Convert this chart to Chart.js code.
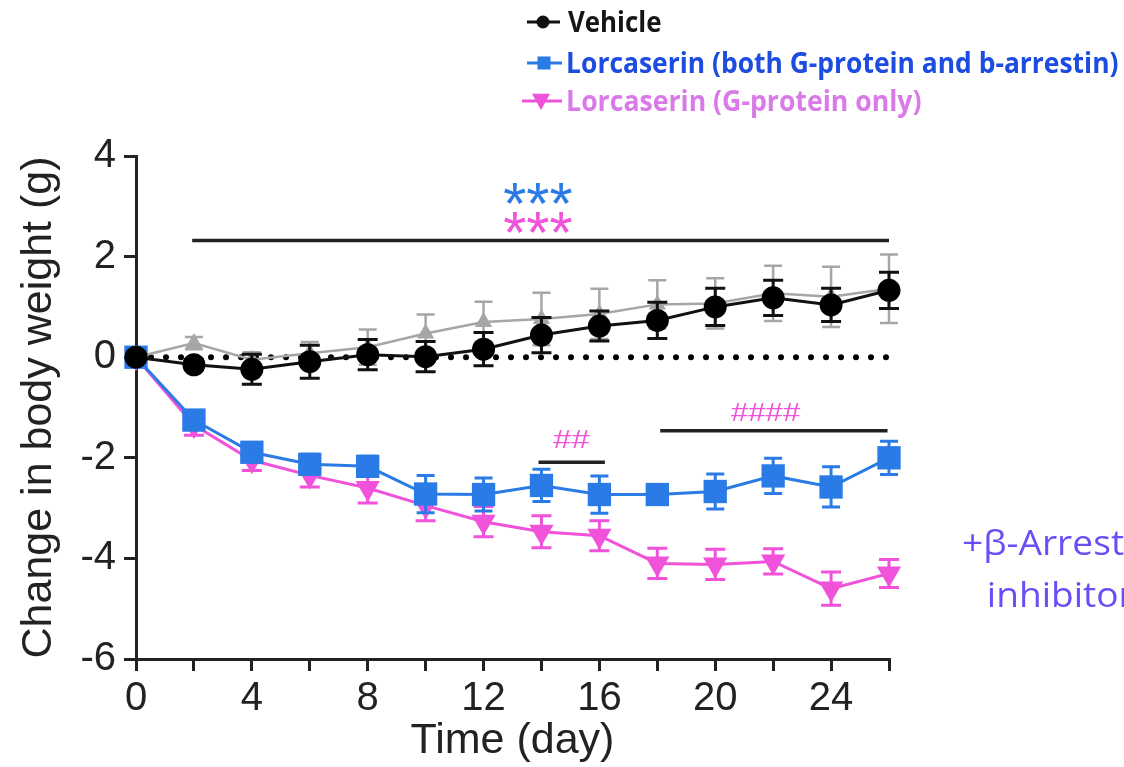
<!DOCTYPE html>
<html><head><meta charset="utf-8">
<script src="https://cdn.jsdelivr.net/npm/chart.js@4.4.1/dist/chart.umd.min.js"></script>
<style>html,body{margin:0;padding:0;background:#fff;}#wrap{width:1124px;height:767px;position:relative;}</style>
</head><body><div id="wrap"><canvas id="c" width="1124" height="767"></canvas></div>
<script>
// ---- data ----
const days = [0,2,4,6,8,10,12,14,16,18,20,22,24,26];
const yTicks = [-6,-4,-2,0,2,4];
const xTickLabels = [0,4,8,12,16,20,24];
const seriesNames = ['Vehicle','Lorcaserin (both G-protein and b-arrestin)','Lorcaserin (G-protein only)','Vehicle (reference)'];
const vehicle    = [0,-0.15,-0.24,-0.09,0.05,0.01,0.16,0.44,0.62,0.73,1.00,1.18,1.04,1.33];
const vehicleErr = [0,0.10,0.30,0.33,0.30,0.30,0.33,0.35,0.30,0.36,0.37,0.35,0.33,0.36];
const lorcBoth    = [0,-1.25,-1.89,-2.13,-2.17,-2.72,-2.73,-2.55,-2.73,-2.73,-2.67,-2.36,-2.58,-2.00];
const lorcBothErr = [0,0.15,0.16,0.20,0.20,0.37,0.33,0.32,0.37,0.18,0.35,0.35,0.40,0.33];
const lorcG    = [0,-1.35,-2.05,-2.35,-2.60,-2.95,-3.27,-3.47,-3.55,-4.10,-4.12,-4.06,-4.60,-4.30];
const lorcGErr = [0,0.20,0.20,0.23,0.30,0.30,0.30,0.32,0.30,0.30,0.30,0.25,0.33,0.28];
const refVeh    = [0,0.28,-0.05,0.08,0.20,0.47,0.70,0.76,0.86,1.05,1.07,1.27,1.20,1.36];
const refVehErr = [0,0.12,0.15,0.22,0.35,0.38,0.40,0.52,0.50,0.48,0.50,0.55,0.60,0.68];
// significance bars (day start, day end, level) and labels
const sigStart = [1.94, 13.9, 18.1];
const sigEnd   = [26, 16.19, 25.95];
const sigLevel = [2.32, -2.09, -1.46];
const sigText  = ['***','***','##','####'];
const sigTextX = [13.87, 13.87, 15.05, 21.75];
const sigTextY = [3.26, 2.68, -1.63, -1.08];
const sideNote = ['+β-Arrestin','inhibitor'];

// ---- styles ----
const BLUE='#2b7be6', PINK='#f052d9', GRAY='#a6a6a6';
const toXY = arr => arr.map((v,i)=>({x:days[i], y:v}));

function drawText(ctx, text, x, y, font, color, fitStr, fitW, align, vmode){
  ctx.save();
  ctx.font = font; ctx.fillStyle = color; ctx.textBaseline='alphabetic'; ctx.textAlign='left';
  const m = ctx.measureText(fitStr || text);
  const inkW = m.actualBoundingBoxLeft + m.actualBoundingBoxRight;
  const sx = fitW ? fitW/inkW : 1;
  let by = y;
  if (vmode === 'center'){ const mm = ctx.measureText(text); by = y + (mm.actualBoundingBoxAscent - mm.actualBoundingBoxDescent)/2; }
  ctx.translate(x, by); ctx.scale(sx,1);
  let ox = m.actualBoundingBoxLeft;
  if (align === 'center') ox = m.actualBoundingBoxLeft - inkW/2;
  ctx.fillText(text, ox, 0);
  ctx.restore();
}
function marker(ctx, style, x, y, r, color){
  ctx.save(); ctx.fillStyle=color; ctx.beginPath();
  if (style==='circle'){ ctx.arc(x,y,r,0,Math.PI*2); }
  else if (style==='rect'){ ctx.rect(x-r,y-r,2*r,2*r); }
  else if (style==='tdown'){ ctx.moveTo(x-r,y-r*0.8); ctx.lineTo(x+r,y-r*0.8); ctx.lineTo(x,y+r); ctx.closePath(); }
  ctx.fill(); ctx.restore();
}

const errorBars = {
  id:'errorBars',
  beforeDatasetDraw(chart, args){
    const ds = chart.data.datasets[args.index];
    if (!ds.errors) return;
    const ctx = chart.ctx, ys = chart.scales.y, xs = chart.scales.x;
    ctx.save();
    ctx.strokeStyle = ds.errColor; ctx.lineWidth = ds.errWidth;
    ds.data.forEach((p,i)=>{
      const e = ds.errors[i]; if (!e) return;
      const x = xs.getPixelForValue(p.x);
      const y1 = ys.getPixelForValue(p.y + e), y2 = ys.getPixelForValue(p.y - e);
      const c = ds.capHalf;
      ctx.beginPath();
      ctx.moveTo(x,y1); ctx.lineTo(x,y2);
      ctx.moveTo(x-c,y1); ctx.lineTo(x+c,y1);
      ctx.moveTo(x-c,y2); ctx.lineTo(x+c,y2);
      ctx.stroke();
    });
    ctx.restore();
  }
};

const extras = {
  id:'extras',
  afterDraw(chart){
    const ctx = chart.ctx, xs = chart.scales.x, ys = chart.scales.y;
    ctx.save(); ctx.strokeStyle='#222'; ctx.lineWidth=3.5;
    sigStart.forEach((s,i)=>{
      const y = ys.getPixelForValue(sigLevel[i]);
      ctx.beginPath(); ctx.moveTo(xs.getPixelForValue(s),y); ctx.lineTo(xs.getPixelForValue(sigEnd[i]),y); ctx.stroke();
    });
    ctx.restore();
    const sigColors=[BLUE,PINK,PINK,PINK];
    const sigFonts=['60px "Liberation Sans"','60px "Liberation Sans"','26px "Liberation Sans"','26px "Liberation Sans"'];
    const sigW=[69,69,37,70];
    sigText.forEach((t,i)=>{
      drawText(ctx,t,xs.getPixelForValue(sigTextX[i]),ys.getPixelForValue(sigTextY[i]),sigFonts[i],sigColors[i],null,sigW[i],'center','center');
    });
    const lf = 'bold 28px "Open Sans"';
    ctx.save(); ctx.lineWidth=3;
    ctx.strokeStyle='#111'; ctx.beginPath(); ctx.moveTo(527,22); ctx.lineTo(560,22); ctx.stroke();
    ctx.strokeStyle=BLUE; ctx.beginPath(); ctx.moveTo(527,63); ctx.lineTo(562,63); ctx.stroke();
    ctx.strokeStyle=PINK; ctx.beginPath(); ctx.moveTo(522,101); ctx.lineTo(562,101); ctx.stroke();
    ctx.restore();
    marker(ctx,'circle',543,22,6.5,'#111');
    marker(ctx,'rect',544,63,6.5,BLUE);
    marker(ctx,'tdown',541,101,9,PINK);
    drawText(ctx,seriesNames[0],568,32,lf,'#151515',null,93,'left');
    drawText(ctx,seriesNames[1],568,73,lf,'#1c4ce0',null,550,'left');
    drawText(ctx,seriesNames[2],568,111,lf,'#d97ae8',null,353,'left');
    const nf = '34px "Open Sans"';
    drawText(ctx,sideNote[0],963,555,nf,'#6650f5','+β-Arrest',161,'left');
    drawText(ctx,sideNote[1],989,607,nf,'#6650f5','inhibito',128,'left');
  }
};

const axisFont = {family:'"Liberation Sans", Arial, sans-serif', size:40};
new Chart(document.getElementById('c'), {
  type:'line',
  data:{ datasets:[
    {label:seriesNames[0], data:toXY(vehicle), errors:vehicleErr, errColor:'#111', errWidth:3, capHalf:10, clip:false,
     borderColor:'#111', backgroundColor:'#000', borderWidth:3, pointStyle:'circle', pointRadius:11.5, pointBorderWidth:0, pointBackgroundColor:'#000'},
    {label:seriesNames[1], data:toXY(lorcBoth), errors:lorcBothErr, errColor:BLUE, errWidth:3, capHalf:9, clip:false,
     borderColor:BLUE, backgroundColor:BLUE, borderWidth:3, pointStyle:'rect', pointRadius:16.5, pointBorderWidth:0, pointBackgroundColor:BLUE},
    {label:seriesNames[2], data:toXY(lorcG), errors:lorcGErr, errColor:PINK, errWidth:3, capHalf:10, clip:false,
     borderColor:PINK, backgroundColor:PINK, borderWidth:3, pointStyle:'triangle', rotation:180, pointRotation:180, pointRadius:14, pointBorderWidth:0, pointBackgroundColor:PINK},
    {label:seriesNames[3], data:toXY(refVeh), errors:refVehErr, errColor:GRAY, errWidth:2.5, capHalf:9, clip:false,
     borderColor:GRAY, backgroundColor:GRAY, borderWidth:2.5, pointStyle:'triangle', pointRadius:10, pointBorderWidth:0, pointBackgroundColor:GRAY},
    {label:'baseline', data:[{x:0,y:0},{x:26,y:0}], clip:false, borderColor:'#000', borderWidth:6, borderDash:[0,15], borderCapStyle:'round', pointRadius:0}
  ]},
  options:{
    responsive:false, animation:false, events:[],
    layout:{padding:{top:156,right:235,left:0,bottom:0}},
    plugins:{legend:{display:false}, tooltip:{enabled:false}},
    elements:{line:{tension:0}},
    scales:{
      x:{type:'linear', min:0, max:26,
        afterBuildTicks(s){ s.ticks = days.map(v=>({value:v})); },
        afterFit(s){ s.height = 108; },
        ticks:{font:axisFont, color:'#222', padding:4, maxRotation:0, autoSkip:false,
          callback:v => xTickLabels.includes(v) ? String(v) : ''},
        grid:{display:true, drawOnChartArea:false, drawTicks:true, tickLength:12, color:'#222', lineWidth:3},
        border:{display:true, color:'#222', width:3},
        title:{display:true, text:'Time (day)', font:{family:'"Liberation Sans", Arial, sans-serif', size:43}, color:'#222', padding:{top:0,bottom:0}}
      },
      y:{type:'linear', min:-6, max:4,
        afterBuildTicks(s){ s.ticks = yTicks.map(v=>({value:v})); },
        afterFit(s){ s.width = 136; },
        ticks:{font:axisFont, color:'#222', padding:8},
        grid:{display:true, drawOnChartArea:false, drawTicks:true, tickLength:12, color:'#222', lineWidth:3},
        border:{display:true, color:'#222', width:3},
        title:{display:true, text:'Change in body weight (g)', font:{family:'"Liberation Sans", Arial, sans-serif', size:43}, color:'#222', padding:{top:13,bottom:0}}
      }
    }
  },
  plugins:[errorBars, extras]
});
</script></body></html>
